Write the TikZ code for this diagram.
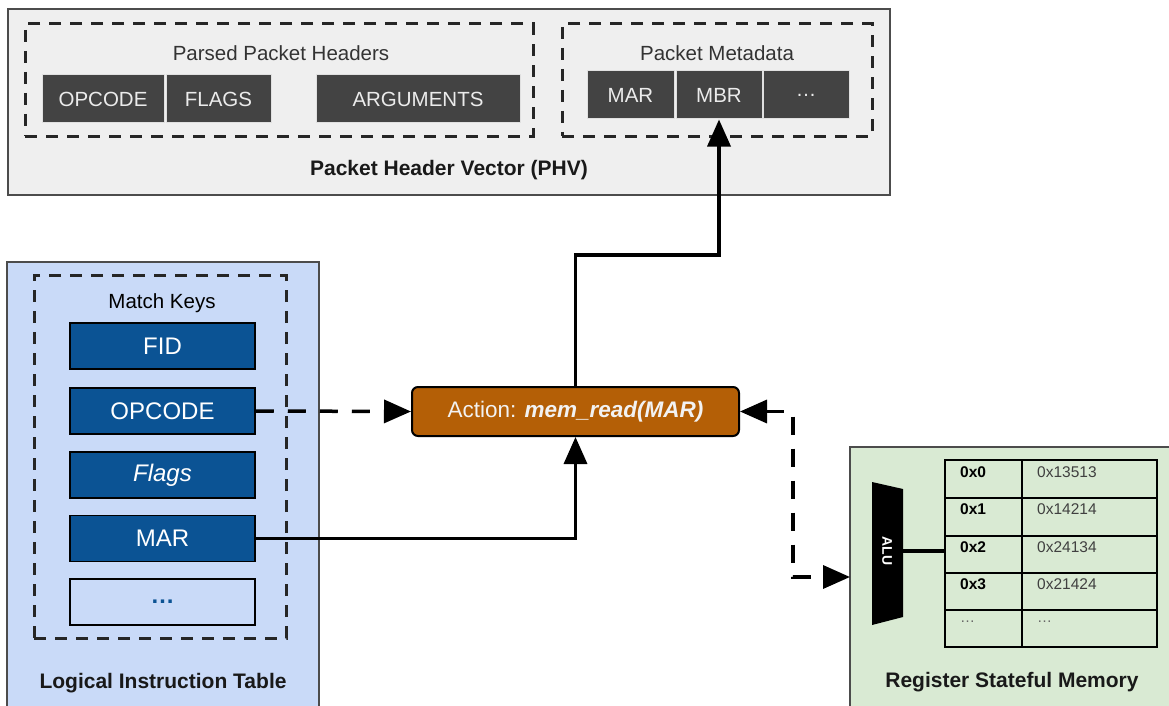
\documentclass[tikz,border=0pt]{standalone}
\usepackage{fontspec}
\setmainfont{Liberation Sans}
\usetikzlibrary{arrows.meta}
\definecolor{phvback}{HTML}{EFEFEF}
\definecolor{fieldgray}{HTML}{434343}
\definecolor{litback}{HTML}{C9DAF8}
\definecolor{keyblue}{HTML}{0B5394}
\definecolor{actorange}{HTML}{B45F06}
\definecolor{memgreen}{HTML}{D9EAD3}
\begin{document}
\begin{tikzpicture}[x=1pt,y=-1pt,
  every node/.style={inner sep=0pt},
  caption/.style={font=\fontsize{20.5}{24}\selectfont, text=black!80},
  title/.style={font=\bfseries\fontsize{21}{24}\selectfont, text=black!90},
  region/.style={draw=black!70, line width=1.3pt},
  group/.style={draw=black!85, line width=3pt, dash pattern=on 12pt off 9pt},
  field/.style={fill=fieldgray, draw=black!12, line width=1pt, text=black!8,
    minimum height=48pt, font=\fontsize{20.5}{24}\selectfont},
  keybox/.style={fill=keyblue, draw=black, line width=1.5pt, text=white,
    minimum width=185pt, minimum height=46pt, font=\fontsize{24}{28}\selectfont},
  conn/.style={line width=3.5pt, -{Triangle[length=27pt,width=23pt]}},
  dashconn/.style={conn, dash pattern=on 18pt off 14pt}]
\useasboundingbox (0,0) rectangle (1169,706);

% packet header vector
\node[region, fill=phvback, minimum width=882pt, minimum height=186pt] (phv) at (449,102) {};
\node[group, minimum width=508pt, minimum height=112pt] (parsed) at (279,80) {};
\node[group, minimum width=310pt, minimum height=112pt] (meta) at (717,80) {};
\node[caption] (parsedlbl) at (281,53) {Parsed Packet Headers};
\node[caption] (metalbl) at (717,53) {Packet Metadata};
\node[field, minimum width=122pt] (ph-opcode) at (103,99) {OPCODE};
\node[field, minimum width=105pt] (ph-flags) at (218.5,99) {FLAGS};
\node[field, minimum width=204pt] (ph-args) at (418,99) {ARGUMENTS};
\node[field, minimum width=87pt] (md-mar) at (630.5,95) {MAR};
\node[field, minimum width=86pt] (md-mbr) at (719,95) {MBR};
\node[field, minimum width=86pt] (md-more) at (806,95) {…};
\node[title] (phvlbl) at (449,170) {Packet Header Vector (PHV)};

% logical instruction table
\node[region, fill=litback, minimum width=312pt, minimum height=458pt] (lit) at (163,491) {};
\node[group, minimum width=252pt, minimum height=363pt] (keys) at (160,456.5) {};
\node[caption, text=black] (keyslbl) at (162,303) {Match Keys};
\node[keybox] (lk-fid) at (162.5,346) {FID};
\node[keybox] (lk-opcode) at (162.5,411) {OPCODE};
\node[keybox] (lk-flags) at (162.5,475) {\itshape Flags};
\node[keybox] (lk-mar) at (162.5,538.5) {MAR};
\node[keybox, fill=litback, text=keyblue] (lk-more) at (162.5,602) {\bfseries …};
\node[title] (litlbl) at (163,683) {Logical Instruction Table};

% action
\node[fill=actorange, draw=black, line width=2pt, rounded corners=6pt,
  minimum width=327pt, minimum height=49pt, text=black!5,
  font=\fontsize{22.5}{26}\selectfont] (act) at (575.5,411.5)
  {Action: \textbf{\textit{mem\_read(MAR)}}};

% register stateful memory
\node[region, fill=memgreen, minimum width=330pt, minimum height=273pt] (mem) at (1015,583.5) {};
\fill[black] (872,482) -- (903,489) -- (903,617) -- (872,625) -- cycle;
\node[rotate=-90, text=white, font=\bfseries\fontsize{14}{16}\selectfont] (alu) at (887,551) {ALU};
\draw[line width=1.5pt] (945,460) rectangle (1157,647);
\draw[line width=1.5pt] (1022,460) -- (1022,647);
\foreach \y in {498,536,573,610}
  \draw[line width=1.5pt] (945,\y) -- (1157,\y);
\foreach \addr/\val [count=\i from 0] in {0x0/0x13513, 0x1/0x14214, 0x2/0x24134, 0x3/0x21424} {
  \node[anchor=west, font=\bfseries\fontsize{15.5}{18}\selectfont] (addr\i) at (960,472+37.5*\i) {\addr};
  \node[anchor=west, text=black!75, font=\fontsize{15.5}{18}\selectfont] (val\i) at (1037,472+37.5*\i) {\val};
}
\node[anchor=west, text=black!60, font=\fontsize{15}{18}\selectfont] (addr4) at (960,622) {…};
\node[anchor=west, text=black!60, font=\fontsize{15}{18}\selectfont] (val4) at (1037,622) {…};
\node[title] (memlbl) at (1012,682) {Register Stateful Memory};
\coordinate (aluout) at (903,551);
\coordinate (tblin) at (945,551);
\draw[line width=3.5pt] (aluout) -- (tblin);

% connectors
\coordinate (upturn) at (650,255);
\coordinate (memturn) at (793,500);
\coordinate (memin) at (850,577);
\draw[dashconn] (lk-opcode.east) -- (act.west);
\draw[conn] (lk-mar.east) -| (act.south);
\draw[conn] (act.north) |- (upturn) -| (md-mbr.south);
\draw[dashconn, {Triangle[length=27pt,width=23pt]}-{Triangle[length=27pt,width=23pt]}]
  (act.east) -| (memturn) |- (memin);
\end{tikzpicture}
\end{document}
